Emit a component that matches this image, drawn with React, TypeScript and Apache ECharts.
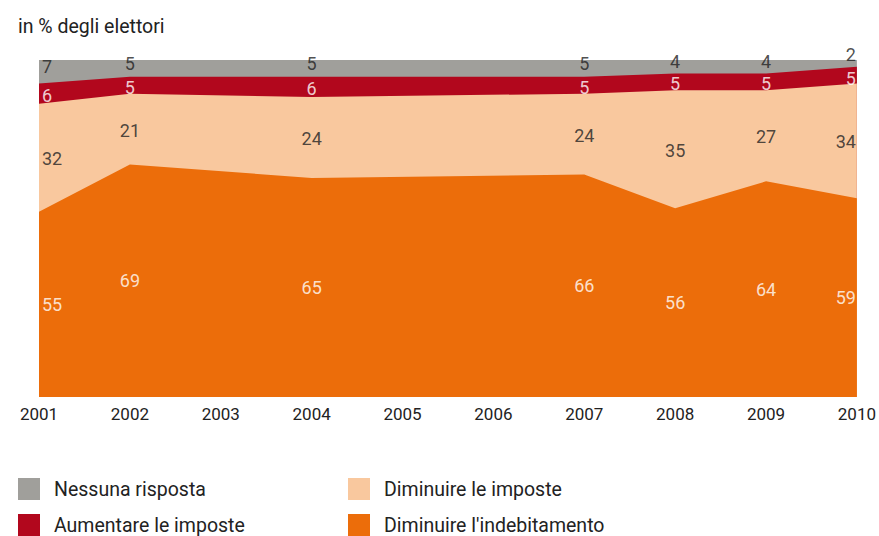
import React, { useEffect, useRef } from "react";
import * as echarts from "echarts";

const years = [2001, 2002, 2004, 2007, 2008, 2009, 2010];
const seriesNames = ["Nessuna risposta", "Aumentare le imposte", "Diminuire le imposte", "Diminuire l'indebitamento"];
const nessunaRisposta = [7, 5, 5, 5, 4, 4, 2];
const aumentareImposte = [6, 5, 6, 5, 5, 5, 5];
const diminuireImposte = [32, 21, 24, 24, 35, 27, 34];
const diminuireIndebitamento = [55, 69, 65, 66, 56, 64, 59];
const title = "in % degli elettori";

const colors = ["#a09f9b", "#b2071d", "#f9c89e", "#ec6d0a"];
const labelColors = ["#222222", "#ffffff", "#222222", "#ffffff"];
const FONT = "Roboto";

export default function App() {
  const ref = useRef<HTMLDivElement>(null);
  useEffect(() => {
    document.body.style.margin = "0";
    if (!ref.current) return;
    const chart = echarts.init(ref.current, undefined, { renderer: "svg" });
    // bottom-to-top order
    const layers = [diminuireIndebitamento, diminuireImposte, aumentareImposte, nessunaRisposta];
    const layerNames = [seriesNames[3], seriesNames[2], seriesNames[1], seriesNames[0]];
    const layerColors = [colors[3], colors[2], colors[1], colors[0]];
    const layerLabelColors = [labelColors[3], labelColors[2], labelColors[1], labelColors[0]];
    const layerLabelDy = [0, 1, 2, -5];
    const cum: number[][] = [];
    layers.forEach((arr, li) => {
      cum.push(arr.map((v, i) => v + (li > 0 ? cum[li - 1][i] : 0)));
    });
    const areaSeries: any[] = [];
    const labelSeries: any[] = [];
    for (let li = layers.length - 1; li >= 0; li--) {
      areaSeries.push({
        name: layerNames[li],
        type: "line",
        data: years.map((y, i) => [y, cum[li][i]]),
        symbol: "none",
        lineStyle: { width: 0 },
        areaStyle: { color: layerColors[li], opacity: 1 },
        itemStyle: { color: layerColors[li] },
        z: 2 + (layers.length - li),
        silent: true,
      });
      labelSeries.push({
        name: layerNames[li] + "_labels",
        type: "scatter",
        symbolSize: 0,
        z: 20,
        silent: true,
        data: years.map((y, i) => {
          const mid = cum[li][i] - layers[li][i] / 2;
          const first = i === 0;
          const last = i === years.length - 1;
          // thin top band at the right edge: lift label above neighbour
          const dy = layerLabelDy[li] + (last && li === 3 ? -4 : 0) + (last && li === 2 ? 1 : 0);
          return {
            value: [y, mid, layers[li][i]],
            label: {
              align: first ? "left" : last ? "right" : "center",
              offset: [first ? 3 : last ? -1 : 0, dy],
            },
          };
        }),
        label: {
          show: true,
          position: "inside",
          formatter: (p: any) => String(p.value[2]),
          color: layerLabelColors[li],
          fontFamily: FONT,
          fontSize: 18,
          lineHeight: 16,
        },
      });
    }
    const legendBase = {
      orient: "vertical",
      itemWidth: 22,
      itemHeight: 22,
      padding: 0,
      icon: "rect",
      selectedMode: false,
      textStyle: { fontFamily: FONT, fontSize: 19.5, color: "#222", padding: [0, 0, 0, 9] },
    };
    chart.setOption({
      animation: false,
      title: {
        text: title,
        left: 18,
        top: 16,
        padding: 0,
        textStyle: { fontFamily: FONT, fontSize: 19.5, fontWeight: "normal", color: "#222" },
      },
      grid: { left: 39, right: 22, top: 60, bottom: 139 },
      xAxis: {
        type: "value",
        min: 2001,
        max: 2010,
        interval: 1,
        axisLine: { show: false },
        axisTick: { show: false },
        splitLine: { show: false },
        axisLabel: {
          formatter: (v: number) => String(v),
          fontFamily: FONT,
          fontSize: 17,
          color: "#222",
          margin: 8,
        },
      },
      yAxis: { type: "value", min: 0, max: 100, show: false },
      legend: [
        { ...legendBase, left: 18, top: 478, data: [seriesNames[0]] },
        { ...legendBase, left: 18, top: 514, data: [seriesNames[1]] },
        { ...legendBase, left: 348, top: 478, data: [seriesNames[2]] },
        { ...legendBase, left: 348, top: 514, data: [seriesNames[3]] },
      ],
      series: [...areaSeries, ...labelSeries],
    });
    return () => chart.dispose();
  }, []);
  return <div ref={ref} style={{ width: 879, height: 536 }} />;
}
